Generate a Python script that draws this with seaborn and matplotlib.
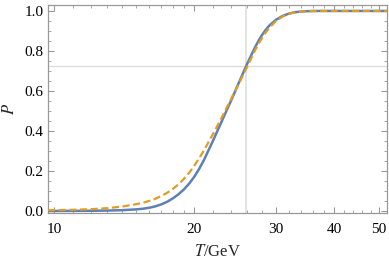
import numpy as np
import pandas as pd
import matplotlib
matplotlib.use("Agg")
import matplotlib.pyplot as plt
import seaborn as sns
from matplotlib.ticker import FixedLocator, NullFormatter, MultipleLocator

# values
T_blue = [9.7, 10, 11, 12, 13, 14, 15, 15.5, 16, 16.5, 17, 17.5, 18, 18.5, 19,
          19.5, 20, 20.5, 21, 22, 23, 24, 25, 26, 27, 27.5, 28, 28.5, 29, 30,
          31, 32, 33, 34, 35, 37, 40, 52]
P_blue = [0.0, 0.0, 0.0005, 0.001, 0.002, 0.004, 0.008, 0.011, 0.016, 0.023,
          0.033, 0.046, 0.063, 0.083, 0.107, 0.136, 0.17, 0.21, 0.255, 0.355,
          0.455, 0.55, 0.645, 0.735, 0.815, 0.85, 0.88, 0.905, 0.926, 0.956,
          0.975, 0.987, 0.994, 0.997, 0.999, 1.0, 1.0, 1.0]

T_orange = [9.7, 10, 11, 12, 13, 14, 15, 15.5, 16, 16.5, 17, 17.5, 18, 18.5,
            19, 19.5, 20, 20.5, 21, 22, 23, 24, 25, 26, 27, 27.5, 28, 28.5, 29,
            30, 31, 32, 33, 34, 36, 40, 52]
P_orange = [0.004, 0.004, 0.006, 0.009, 0.014, 0.022, 0.034, 0.041, 0.05, 0.061,
            0.075, 0.091, 0.11, 0.133, 0.16, 0.19, 0.225, 0.263, 0.303, 0.388,
            0.473, 0.558, 0.64, 0.72, 0.80, 0.835, 0.865, 0.892, 0.915, 0.95,
            0.972, 0.986, 0.993, 0.997, 1.0, 1.0, 1.0]

T_mark = 25.9
P_mark = 0.725

x_major = [10, 20, 30, 40, 50]

sns.set_style("ticks")
plt.rcParams["font.family"] = ["Liberation Serif", "DejaVu Serif"]
plt.rcParams["mathtext.fontset"] = "stix"

fig = plt.figure(figsize=(3.89, 2.61), dpi=100)
ax = fig.add_axes([0.1234, 0.184, 0.8716, 0.797])

ax.axvline(T_mark, color="#dddddd", lw=1.1, zorder=1)
ax.axhline(P_mark, color="#dddddd", lw=1.0, zorder=1)

sns.lineplot(x=T_blue, y=P_blue, ax=ax, color="#5e81b5", lw=1.8, zorder=3)
sns.lineplot(x=T_orange, y=P_orange, ax=ax, color="#e19c24", lw=1.6,
             linestyle=(0, (3.2, 1.6)), zorder=4)

ax.set_xscale("log")
ax.set_xlim(9.7, 52)
ax.set_ylim(-0.01, 1.03)

ax.xaxis.set_major_locator(FixedLocator(x_major))
ax.set_xticklabels([str(v) for v in x_major])
minors = [v for v in list(range(11, 20)) + list(range(22, 30, 2)) + list(range(32, 52, 2)) if v not in x_major]
ax.xaxis.set_minor_locator(FixedLocator(minors))
ax.xaxis.set_minor_formatter(NullFormatter())
ax.yaxis.set_major_locator(MultipleLocator(0.2))
ax.yaxis.set_minor_locator(MultipleLocator(0.05))
ax.set_yticklabels([f"{v:.1f}" for v in ax.get_yticks()])

for s in ax.spines.values():
    s.set_color("#999999")
    s.set_linewidth(0.9)
ax.tick_params(which="both", direction="in", top=True, right=True,
               color="#999999", labelsize=11, labelcolor="black", pad=3)
ax.tick_params(axis="x", which="major", pad=7)
ax.tick_params(which="major", length=4, width=0.8)
ax.tick_params(which="minor", length=2.2, width=0.6)

ax.set_xlabel(r"$T$/GeV", fontsize=12, labelpad=6)
ax.set_ylabel(r"$P$", fontsize=12, labelpad=5)

fig.savefig("out.png", dpi=100)
